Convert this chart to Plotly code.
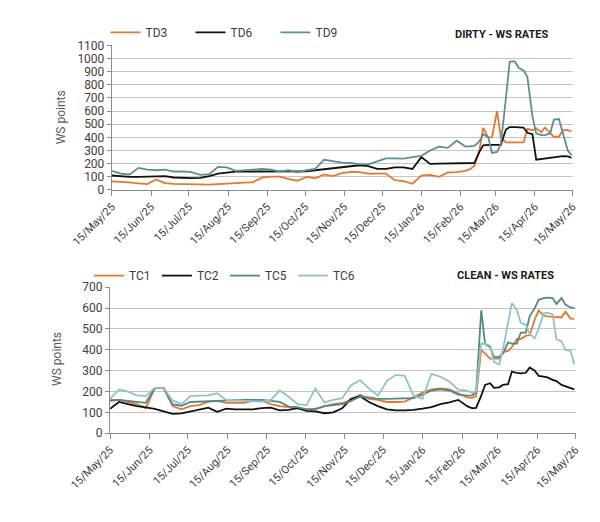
import pandas as pd
import plotly.graph_objects as go

# ---------------- dates (weekly, then twice weekly from mid-Feb 2026) ----------------
weekly_dates = list(pd.date_range("2025-05-15", periods=40, freq="7D").strftime("%Y-%m-%d"))
dense_dates = ["2026-02-19", "2026-02-23", "2026-02-26", "2026-03-02", "2026-03-05",
               "2026-03-09", "2026-03-12", "2026-03-16", "2026-03-19", "2026-03-23",
               "2026-03-26", "2026-03-30", "2026-04-02", "2026-04-06", "2026-04-09",
               "2026-04-13", "2026-04-16", "2026-04-20", "2026-04-23", "2026-04-27",
               "2026-04-30", "2026-05-04", "2026-05-07", "2026-05-11", "2026-05-14"]
dates = weekly_dates + dense_dates

tick_dates = ["2025-05-15", "2025-06-15", "2025-07-15", "2025-08-15", "2025-09-15",
              "2025-10-15", "2025-11-15", "2025-12-15", "2026-01-15", "2026-02-15",
              "2026-03-15", "2026-04-15", "2026-05-15"]
tick_labels = ["15/May/25", "15/Jun/25", "15/Jul/25", "15/Aug/25", "15/Sep/25",
               "15/Oct/25", "15/Nov/25", "15/Dec/25", "15/Jan/26", "15/Feb/26",
               "15/Mar/26", "15/Apr/26", "15/May/26"]

# ---------------- DIRTY ----------------
td3 = [65, 62, 57, 50, 45, 80, 52, 47, 45, 45,
       45, 40, 45, 50, 52, 57, 60, 95, 102, 102,
       82, 70, 100, 88, 118, 105, 128, 137, 135, 125,
       125, 125, 75, 68, 47, 110, 115, 100, 133, 135,
       145, 160, 185, 300, 472, 400, 400, 600, 400, 362,
       362, 362, 362, 362, 465, 455, 470, 440, 475, 430,
       405, 405, 455, 455, 445]
td6 = [110, 103, 100, 100, 102, 108, 105, 95, 92, 90,
       92, 105, 125, 132, 140, 140, 140, 140, 140, 140,
       140, 140, 142, 150, 157, 165, 175, 182, 188, 182,
       160, 160, 172, 172, 160, 250, 198, 200, 200, 200,
       200, 200, 205, 290, 340, 343, 343, 343, 343, 460,
       479, 479, 479, 475, 435, 425, 230, 235, 240, 245,
       250, 255, 258, 255, 245]
td9 = [145, 125, 118, 168, 155, 150, 155, 140, 142, 135,
       115, 120, 175, 172, 145, 150, 152, 160, 155, 140,
       150, 135, 150, 160, 230, 220, 208, 205, 197, 195,
       215, 240, 240, 238, 250, 260, 300, 330, 320, 375,
       330, 330, 335, 370, 425, 400, 282, 290, 350, 700,
       975, 980, 930, 910, 860, 560, 430, 418, 418, 430,
       535, 540, 430, 300, 265]

# ---------------- CLEAN ----------------
tc1 = [160, 160, 150, 140, 120, 215, 218, 130, 115, 130,
       135, 152, 155, 146, 146, 146, 155, 158, 140, 130,
       125, 120, 115, 118, 130, 140, 145, 160, 185, 165,
       160, 150, 150, 152, 172, 195, 210, 215, 210, 190,
       172, 170, 178, 400, 381, 358, 358, 358, 389, 395,
       413, 452, 452, 468, 470, 546, 588, 565, 560, 558,
       556, 555, 583, 550, 548]
tc2 = [117, 150, 140, 130, 124, 117, 105, 93, 95, 104,
       115, 123, 103, 118, 115, 115, 115, 120, 123, 110,
       112, 120, 107, 105, 96, 100, 120, 165, 178, 150,
       130, 115, 110, 110, 112, 118, 125, 140, 148, 160,
       130, 120, 122, 180, 232, 240, 218, 220, 232, 235,
       295, 290, 287, 290, 315, 300, 275, 272, 268, 256,
       250, 232, 225, 215, 210]
tc5 = [155, 160, 155, 150, 146, 216, 216, 138, 132, 150,
       152, 154, 155, 158, 160, 160, 160, 160, 155, 150,
       128, 125, 115, 115, 130, 135, 140, 155, 175, 172,
       165, 165, 165, 165, 168, 185, 205, 210, 205, 185,
       180, 182, 195, 590, 428, 413, 366, 366, 381, 436,
       430, 430, 483, 483, 562, 600, 640, 648, 650, 648,
       620, 648, 617, 603, 600]
tc6 = [165, 210, 200, 182, 178, 218, 218, 156, 140, 178,
       180, 182, 192, 160, 157, 155, 155, 152, 160, 205,
       175, 140, 135, 215, 148, 160, 168, 230, 255, 215,
       180, 250, 280, 275, 180, 165, 285, 271, 248, 209,
       205, 193, 200, 430, 428, 420, 342, 330, 400, 520,
       625, 590, 530, 520, 476, 455, 500, 575, 578, 570,
       450, 440, 400, 395, 330]

ORANGE = "#E8772E"
BLACK = "#111111"
TEAL = "#5B8F98"
TEAL_DARK = "#4F8A8A"
TEAL_LIGHT = "#8EC4C6"

FONT = "Roboto, Open Sans, sans-serif"
TXT = "#404040"
GRID = "#C4C4C4"
AXIS = "#8C8C8C"

W, H = 600, 522


def px_x(p):
    return p / W


def px_y(p):
    return 1 - p / H


fig = go.Figure()

for name, vals, col in [("TD3", td3, ORANGE), ("TD6", td6, BLACK), ("TD9", td9, TEAL)]:
    fig.add_trace(go.Scatter(x=dates, y=vals, name=name, mode="lines",
                             line=dict(color=col, width=1.8),
                             xaxis="x", yaxis="y", legend="legend"))

for name, vals, col in [("TC1", tc1, ORANGE), ("TC2", tc2, BLACK),
                        ("TC5", tc5, TEAL_DARK), ("TC6", tc6, TEAL_LIGHT)]:
    fig.add_trace(go.Scatter(x=dates, y=vals, name=name, mode="lines",
                             line=dict(color=col, width=1.8),
                             xaxis="x2", yaxis="y2", legend="legend2"))

xcommon = dict(type="date", range=["2025-05-15", "2026-05-15"],
               tickvals=tick_dates, ticktext=tick_labels, tickangle=-45,
               showgrid=False, showline=True, linecolor=AXIS, linewidth=1.3,
               ticks="outside", ticklen=5, tickcolor=AXIS, tickwidth=1.3,
               tickfont=dict(family=FONT, size=11, color=TXT), zeroline=False)
ycommon = dict(showgrid=True, gridcolor=GRID, gridwidth=1.3, dtick=100,
               showline=True, linecolor=AXIS, linewidth=1.3,
               ticks="outside", ticklen=4, tickcolor=AXIS, tickwidth=1.3,
               tickfont=dict(family=FONT, size=12, color=TXT), zeroline=False)

fig.update_layout(
    width=W, height=H,
    margin=dict(l=0, r=0, t=0, b=0),
    paper_bgcolor="white", plot_bgcolor="white",
    xaxis=dict(xcommon, domain=[px_x(76), px_x(577)], anchor="y"),
    yaxis=dict(ycommon, domain=[px_y(188), px_y(39.5)], range=[0, 1100], anchor="x"),
    xaxis2=dict(xcommon, domain=[px_x(74), px_x(580)], anchor="y2"),
    yaxis2=dict(ycommon, domain=[px_y(438), px_y(288)], range=[0, 700], anchor="x2"),
    legend=dict(orientation="h", x=px_x(69), y=px_y(26), xanchor="left", yanchor="middle",
                entrywidth=40, entrywidthmode="pixels",
                font=dict(family=FONT, size=12, color=TXT), bgcolor="rgba(0,0,0,0)"),
    legend2=dict(orientation="h", x=px_x(51), y=px_y(276), xanchor="left", yanchor="middle",
                 entrywidth=23, entrywidthmode="pixels",
                 font=dict(family=FONT, size=12, color=TXT), bgcolor="rgba(0,0,0,0)"),
    showlegend=True,
)

TITLE_FONT = dict(family="Roboto, sans-serif", size=11, color="#1a1a1a")
annotations = [
    dict(text="<b>DIRTY - WS RATES</b>", x=px_x(500), y=px_y(28), xref="paper", yref="paper",
         xanchor="center", yanchor="middle", showarrow=False, font=TITLE_FONT),
    dict(text="<b>CLEAN - WS RATES</b>", x=px_x(504), y=px_y(276), xref="paper", yref="paper",
         xanchor="center", yanchor="middle", showarrow=False, font=TITLE_FONT),
    dict(text="WS points", x=px_x(21), y=px_y(113), xref="paper", yref="paper",
         xanchor="center", yanchor="middle", textangle=-90, showarrow=False,
         font=dict(family=FONT, size=12, color="#595959")),
    dict(text="WS points", x=px_x(17), y=px_y(362), xref="paper", yref="paper",
         xanchor="center", yanchor="middle", textangle=-90, showarrow=False,
         font=dict(family=FONT, size=12, color="#595959")),
]
fig.update_layout(annotations=annotations)

fig.write_html("out.html")
